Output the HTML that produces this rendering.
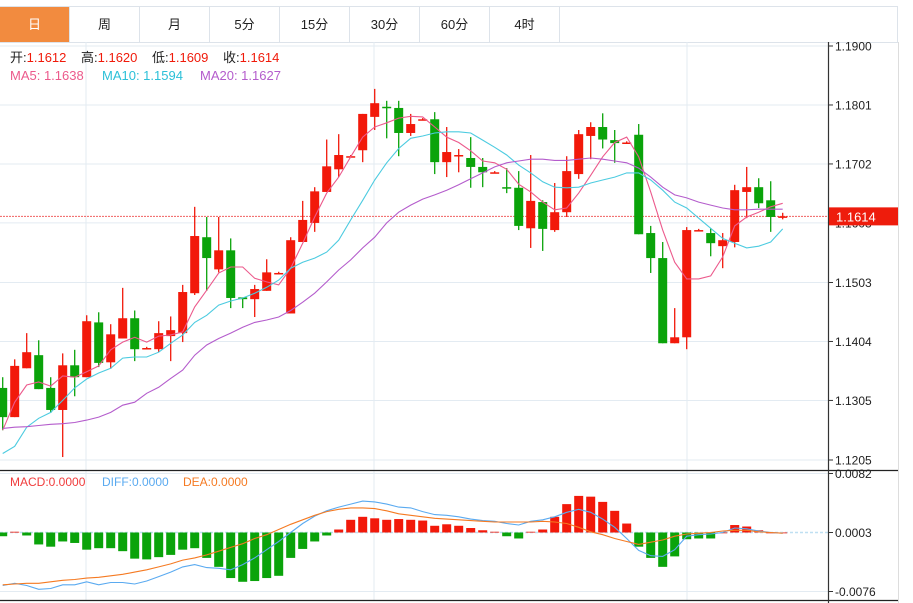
<!DOCTYPE html>
<html><head><meta charset="utf-8">
<style>
html,body{margin:0;padding:0;background:#fff;width:913px;height:603px;overflow:hidden;font-family:"Liberation Sans","Noto Sans CJK SC",sans-serif;}
#tabs{position:absolute;left:0;top:6px;width:897px;height:35px;border-top:1px solid #dde3ea;border-bottom:1px solid #dde3ea;border-right:1px solid #dde3ea;}
.tab{position:absolute;top:0;height:35px;width:70px;line-height:35px;text-align:center;font-size:13px;color:#222;border-right:1px solid #dde3ea;box-sizing:border-box;}
.tab.active{background:#f28b3f;color:#fff;}
svg{position:absolute;left:0;top:0;}
</style></head><body>
<div id="tabs">
<div class="tab active" style="left:0">日</div>
<div class="tab" style="left:70px">周</div>
<div class="tab" style="left:140px">月</div>
<div class="tab" style="left:210px">5分</div>
<div class="tab" style="left:280px">15分</div>
<div class="tab" style="left:350px">30分</div>
<div class="tab" style="left:420px">60分</div>
<div class="tab" style="left:490px">4时</div>
</div>
<svg id="chart" width="913" height="603"></svg>
<script>
const opens=[1.1326,1.1277,1.1359,1.1381,1.1326,1.1289,1.1364,1.1344,1.1436,1.1369,1.1409,1.1443,1.1393,1.1391,1.1413,1.1418,1.1485,1.1579,1.1525,1.1557,1.1478,1.1475,1.1489,1.1519,1.1451,1.1571,1.1603,1.1655,1.1693,1.1715,1.1725,1.1781,1.1798,1.1796,1.1754,1.1777,1.1777,1.1705,1.1717,1.1712,1.1697,1.1688,1.1663,1.1662,1.1594,1.1638,1.1591,1.1621,1.1685,1.1749,1.1764,1.1742,1.1738,1.1751,1.1586,1.1544,1.1401,1.1411,1.1591,1.1586,1.1564,1.1571,1.1655,1.1663,1.1641,1.1612];
const highs=[1.1344,1.1374,1.1418,1.1406,1.1344,1.1384,1.1390,1.1448,1.1453,1.1433,1.1494,1.1456,1.1395,1.1438,1.1446,1.1499,1.1630,1.1613,1.1613,1.1577,1.1478,1.1499,1.1542,1.1521,1.1579,1.1640,1.1663,1.1743,1.1752,1.1717,1.1786,1.1828,1.1808,1.1808,1.1786,1.1779,1.1789,1.1764,1.1727,1.1747,1.1712,1.1690,1.1695,1.1690,1.1717,1.1641,1.1670,1.1715,1.1759,1.1772,1.1787,1.1759,1.1740,1.1769,1.1598,1.1571,1.1460,1.1596,1.1593,1.1594,1.1586,1.1667,1.1697,1.1678,1.1673,1.1620];
const lows=[1.1255,1.1277,1.1359,1.1324,1.1284,1.1210,1.1312,1.1344,1.1361,1.1358,1.1409,1.1371,1.1391,1.1386,1.1371,1.1403,1.1482,1.1489,1.1520,1.1460,1.1460,1.1445,1.1489,1.1517,1.1451,1.1571,1.1588,1.1655,1.1680,1.1713,1.1705,1.1759,1.1745,1.1715,1.1749,1.1775,1.1685,1.1680,1.1688,1.1662,1.1663,1.1686,1.1653,1.1591,1.1561,1.1556,1.1588,1.1613,1.1677,1.1710,1.1728,1.1704,1.1736,1.1584,1.1519,1.1401,1.1401,1.1391,1.1589,1.1547,1.1527,1.1562,1.1611,1.1628,1.1588,1.1609];
const closes=[1.1277,1.1363,1.1386,1.1324,1.1289,1.1364,1.1344,1.1438,1.1368,1.1416,1.1443,1.1391,1.1393,1.1418,1.1423,1.1487,1.1581,1.1544,1.1557,1.1477,1.1475,1.1492,1.1520,1.1519,1.1574,1.1608,1.1656,1.1698,1.1717,1.1715,1.1786,1.1804,1.1796,1.1754,1.1769,1.1777,1.1705,1.1722,1.1717,1.1697,1.1688,1.1688,1.1662,1.1598,1.1640,1.1593,1.1621,1.1690,1.1752,1.1764,1.1743,1.1737,1.1738,1.1584,1.1544,1.1401,1.1411,1.1591,1.1591,1.1569,1.1574,1.1658,1.1663,1.1636,1.1613,1.1614];
const ma5=[1.1255,1.1302,1.1331,1.1336,1.1329,1.1346,1.1344,1.1353,1.1363,1.1390,1.1403,1.1411,1.1403,1.1413,1.1415,1.1420,1.1462,1.1490,1.1519,1.1529,1.1529,1.1510,1.1504,1.1499,1.1527,1.1569,1.1613,1.1653,1.1680,1.1714,1.1747,1.1764,1.1771,1.1779,1.1782,1.1781,1.1764,1.1747,1.1738,1.1724,1.1707,1.1704,1.1693,1.1668,1.1655,1.1638,1.1625,1.1628,1.1653,1.1683,1.1714,1.1738,1.1747,1.1714,1.1655,1.1591,1.1537,1.1509,1.1509,1.1514,1.1546,1.1598,1.1613,1.1621,1.1630,1.1636];
const ma10=[1.1216,1.1228,1.1260,1.1275,1.1285,1.1305,1.1326,1.1341,1.1351,1.1359,1.1376,1.1378,1.1378,1.1386,1.1401,1.1415,1.1436,1.1448,1.1465,1.1472,1.1477,1.1485,1.1495,1.1507,1.1527,1.1537,1.1544,1.1554,1.1574,1.1608,1.1641,1.1675,1.1704,1.1728,1.1745,1.1749,1.1754,1.1756,1.1756,1.1754,1.1742,1.1730,1.1717,1.1700,1.1687,1.1672,1.1663,1.1662,1.1663,1.1670,1.1675,1.1680,1.1687,1.1687,1.1675,1.1658,1.1638,1.1628,1.1611,1.1594,1.1577,1.1569,1.1561,1.1564,1.1571,1.1593];
const ma20=[1.1258,1.1260,1.1261,1.1263,1.1265,1.1266,1.1268,1.1272,1.1277,1.1285,1.1297,1.1302,1.1317,1.1327,1.1342,1.1356,1.1381,1.1398,1.1409,1.1418,1.1428,1.1436,1.1440,1.1445,1.1456,1.1470,1.1485,1.1504,1.1524,1.1541,1.1561,1.1579,1.1603,1.1621,1.1633,1.1643,1.1650,1.1658,1.1667,1.1677,1.1687,1.1697,1.1704,1.1707,1.1710,1.1710,1.1708,1.1708,1.1710,1.1712,1.1710,1.1707,1.1704,1.1695,1.1680,1.1663,1.1650,1.1645,1.1638,1.1633,1.1628,1.1625,1.1625,1.1626,1.1626,1.1626];
const priceTicks=[1.1900,1.1801,1.1702,1.1603,1.1503,1.1404,1.1305,1.1205];
// MACD panel, units of 0.0001
const hist=[-5,1,-4,-16,-19,-12,-14,-23,-21,-21,-25,-35,-36,-33,-30,-23,-21,-34,-46,-61,-66,-65,-61,-58,-34,-22,-12,-4,4,17,21,19,17,18,17,16,9,11,9,6,3,1,-5,-8,1,4,21,38,49,48,41,29,12,-19,-34,-46,-32,-9,-8,-8,0,10,8,3,0,0];
const diff=[-71,-68,-71,-76,-75,-70,-70,-66,-70,-67,-67,-69,-65,-59,-53,-46,-43,-47,-48,-50,-43,-34,-23,-12,0,12,22,29,34,38,42,41,38,34,33,28,24,23,21,18,16,15,12,10,15,17,21,27,31,27,18,7,-8,-24,-31,-32,-23,-5,-3,-2,0,6,5,2,0,-1];
const dea=[-70,-69,-68,-68,-66,-64,-63,-61,-60,-58,-56,-53,-50,-46,-42,-37,-34,-30,-25,-20,-15,-8,-3,4,11,17,23,28,31,33,33,32,29,25,23,21,19,18,17,16,15,14,14,14,14,15,14,12,7,1,-3,-8,-12,-16,-13,-10,-5,-2,-1,0,2,3,3,1,0,-1];
const macdTicks=[0.0082,0.0003,-0.0076];
const lastPrice=1.1614;

const NS='http://www.w3.org/2000/svg';
const svg=document.getElementById('chart');
const RED='#f2190a',GREEN='#0aa30a';
const FONT='"Liberation Sans","Noto Sans CJK SC",sans-serif';
const xOf=i=>2.7+12*i;
const yP=p=>46+(1.19-p)*5957;
const yM=v=>532.5-(v-0.0003)*7468;
const yH=u=>yM(0.0003+u*0.0001);
function mk(tag,attrs,parent){const e=document.createElementNS(NS,tag);for(const k in attrs)e.setAttribute(k,attrs[k]);(parent||svg).appendChild(e);return e;}

priceTicks.forEach(t=>{const l=mk('line',{x1:0,x2:828,y1:yP(t),y2:yP(t),stroke:'#e3ebf2','stroke-width':1});

});
macdTicks.forEach(t=>{if(t===0.0003)return;const l=mk('line',{x1:0,x2:828,y1:yM(t),y2:yM(t),stroke:'#e3ebf2','stroke-width':1});

});
[86,374,687].forEach(x=>{const l=mk('line',{x1:x,x2:x,y1:42,y2:600,stroke:'#e3ebf2','stroke-width':1});

});

const lp=mk('line',{x1:0,x2:828,y1:yP(lastPrice),y2:yP(lastPrice),stroke:'#f06060','stroke-width':1,'stroke-dasharray':'2,1'});



function line(arr,yf,color,name){const pts=arr.map((v,i)=>xOf(i).toFixed(1)+','+yf(v).toFixed(1)).join(' ');
const pl=mk('polyline',{points:pts,fill:'none',stroke:color,'stroke-width':1.1});

}

opens.forEach((o,i)=>{const c=closes[i];const up=c>=o;const col=up?RED:GREEN;const x=xOf(i);
const g=mk('g',{});


mk('line',{x1:x,x2:x,y1:yP(highs[i]),y2:yP(lows[i]),stroke:col,'stroke-width':1.3},g);
const top=yP(Math.max(o,c)),bot=yP(Math.min(o,c));
mk('rect',{x:x-4.5,y:top,width:9,height:Math.max(1.5,bot-top),fill:col},g);});

line(ma5,yP,'#ec5a8c','ma5-line');
line(ma10,yP,'#4ccbe0','ma10-line');
line(ma20,yP,'#b45ccc','ma20-line');

const zl=mk('line',{x1:0,x2:828,y1:yH(0),y2:yH(0),stroke:'#bfe0f2','stroke-width':1.5,'stroke-dasharray':'3,2'});


hist.forEach((h,i)=>{const x=xOf(i);const y0=yH(0),y1=yH(h);
const r=mk('rect',{x:x-4.5,y:Math.min(y0,y1),width:9,height:Math.max(0.8,Math.abs(y1-y0)),fill:h>=0?RED:GREEN});

});
line(diff,yH,'#5aaaf0','diff-line');
line(dea,yH,'#f57a22','dea-line');

[[0,470.5,898,470.5],[0,600.5,898,600.5]].forEach(a=>{const l=mk('line',{x1:a[0],y1:a[1],x2:a[2],y2:a[3],stroke:'#222','stroke-width':1.3});

});
const ax=mk('line',{x1:828.5,x2:828.5,y1:42,y2:603,stroke:'#333','stroke-width':1.2});


const rb=mk('line',{x1:898.5,x2:898.5,y1:42,y2:603,stroke:'#ddd','stroke-width':1});



function txt(x,y,s,color,size,name,anchor){const t=mk('text',{x:x,y:y,fill:color,'font-size':size,'font-family':FONT,'text-anchor':anchor||'start'});t.textContent=s;

return t;}
priceTicks.forEach(t=>{const y=yP(t);mk('line',{x1:828,x2:833,y1:y,y2:y,stroke:'#333'});txt(835,y+4.5,t.toFixed(4),'#222',12,'price-tick-label');});
macdTicks.forEach(t=>{const y=yM(t);mk('line',{x1:828,x2:833,y1:y,y2:y,stroke:'#333'});txt(835,y+4.5,t.toFixed(4),'#222',12,'macd-tick-label');});

const bx=mk('rect',{x:829,y:yP(lastPrice)-9,width:69,height:18,fill:'#ee1c0c'});


txt(836,yP(lastPrice)+5,lastPrice.toFixed(4),'#fff',13,'last-price-label');

// OHLC legend (separately positioned items)
[[10,'开:','1.1612'],[81,'高:','1.1620'],[152,'低:','1.1609'],[223,'收:','1.1614']].forEach(p=>{
const t=mk('text',{x:p[0],y:62,'font-size':13,'font-family':FONT});


const a=mk('tspan',{fill:'#222'},t);a.textContent=p[1];
const b=mk('tspan',{fill:'#f01a0a'},t);b.textContent=p[2];});
txt(10,80,'MA5: 1.1638','#ec5a8c',13,'ma5-legend');
txt(102,80,'MA10: 1.1594','#2cc0d8',13,'ma10-legend');
txt(200,80,'MA20: 1.1627','#b45ccc',13,'ma20-legend');
txt(10,486,'MACD:0.0000','#f03c3c',12,'macd-legend');
txt(102,486,'DIFF:0.0000','#5aaaf0',12,'diff-legend');
txt(183,486,'DEA:0.0000','#f57a22',12,'dea-legend');
</script>
</body></html>
